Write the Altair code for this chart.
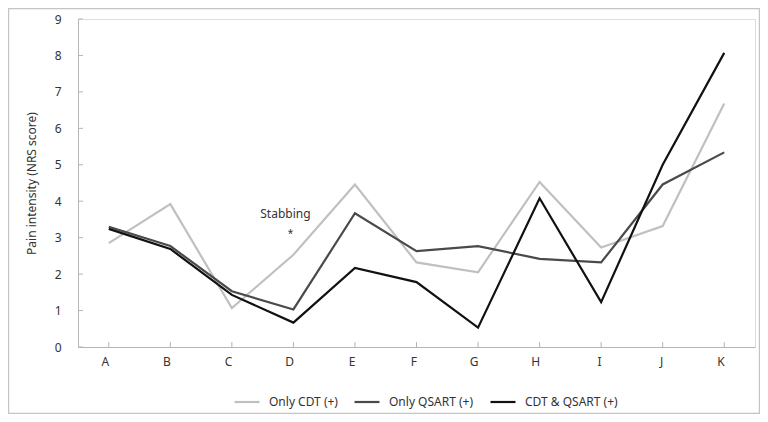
import altair as alt
import pandas as pd

categories = ["A", "B", "C", "D", "E", "F", "G", "H", "I", "J", "K"]
only_cdt = [2.85, 3.92, 1.07, 2.53, 4.46, 2.32, 2.05, 4.53, 2.73, 3.32, 6.68]
only_qsart = [3.30, 2.77, 1.53, 1.03, 3.67, 2.63, 2.77, 2.42, 2.32, 4.46, 5.34]
cdt_qsart = [3.24, 2.69, 1.43, 0.67, 2.17, 1.78, 0.53, 4.08, 1.23, 5.0, 8.07]
series_names = ["Only CDT (+)", "Only QSART (+)", "CDT & QSART (+)"]
series_colors = ["#c0c0c0", "#4a4a4a", "#111111"]
y_ticks = list(range(0, 10))
annotation_cat = "D"
annotation_text = "Stabbing"
annotation_mark = "*"
annotation_value = 3.15

rows = []
for name, vals in zip(series_names, [only_cdt, only_qsart, cdt_qsart]):
    for c, v in zip(categories, vals):
        rows.append({"cat": c, "value": v, "series": name})
df = pd.DataFrame(rows)

W, H = 677, 328
PAD = {"left": 70, "top": 11, "right": 5, "bottom": 67}
FONT = "Noto Sans"

xscale = alt.Scale(domain=categories, type="point", padding=0.5)
yscale = alt.Scale(domain=[0, 9])

lines = alt.Chart(df).mark_line(strokeWidth=2.2).encode(
    x=alt.X("cat:N", scale=xscale, sort=categories,
            axis=alt.Axis(title=None, labelAngle=0, ticks=False, labelPadding=14,
                          domainColor="#b5b5b5", labelColor="#333", labelFontSize=12,
                          labelFont=FONT)),
    y=alt.Y("value:Q", scale=yscale,
            axis=alt.Axis(title="Pain intensity (NRS score)", values=y_ticks, ticks=False,
                          labelOverlap=False, tickCount=10,
                          labelPadding=17, grid=False, domainColor="#b5b5b5",
                          labelColor="#333", labelFontSize=12, labelFont=FONT,
                          titleFont=FONT, titleFontSize=12, titleFontWeight="normal",
                          titleColor="#333", titlePadding=16)),
    color=alt.Color("series:N", sort=series_names,
                    scale=alt.Scale(domain=series_names, range=series_colors),
                    legend=alt.Legend(title=None, orient="none", direction="horizontal",
                                      legendX=155, legendY=369,
                                      symbolType="stroke", symbolSize=625,
                                      symbolStrokeWidth=2.2, labelFont=FONT,
                                      labelFontSize=12, labelColor="#333",
                                      columnPadding=12, labelOffset=8)),
)

xt = pd.DataFrame({"cat": categories})
xticks = alt.Chart(xt).mark_rule(color="#b5b5b5").encode(
    x=alt.X("cat:N", scale=xscale, sort=categories),
    y=alt.value(H), y2=alt.value(H - 5))

yt = pd.DataFrame({"v": y_ticks})
yticks = alt.Chart(yt).mark_rule(color="#b5b5b5").encode(
    y=alt.Y("v:Q", scale=yscale), x=alt.value(0), x2=alt.value(5))

frame = alt.Chart(pd.DataFrame({"f": [0]})).mark_rect(
    fill=None, fillOpacity=0, stroke="#c4c4c4", strokeWidth=1.2).encode(
    x=alt.value(-PAD["left"] + 0.6), x2=alt.value(W + PAD["right"] - 0.6),
    y=alt.value(-PAD["top"] + 0.6), y2=alt.value(H + PAD["bottom"] - 0.6))

ann = pd.DataFrame({"cat": [annotation_cat], "value": [annotation_value],
                    "label": [annotation_text], "mark": [annotation_mark]})
ann_text = alt.Chart(ann).mark_text(font=FONT, fontSize=12, color="#333", dx=-8, dy=-18).encode(
    x=alt.X("cat:N", scale=xscale, sort=categories),
    y=alt.Y("value:Q", scale=yscale), text="label:N")
ann_star = alt.Chart(ann).mark_text(font=FONT, fontSize=10, color="#333", dx=-3, dy=2).encode(
    x=alt.X("cat:N", scale=xscale, sort=categories),
    y=alt.Y("value:Q", scale=yscale), text="mark:N")

chart = alt.layer(frame, xticks, yticks, lines, ann_text, ann_star).properties(
    width=W, height=H,
    autosize=alt.AutoSizeParams(type="none"),
    padding=PAD,
).configure_view(stroke=None).configure(background="white")

chart.save("out.html", embed_options={"renderer": "svg", "actions": False})
